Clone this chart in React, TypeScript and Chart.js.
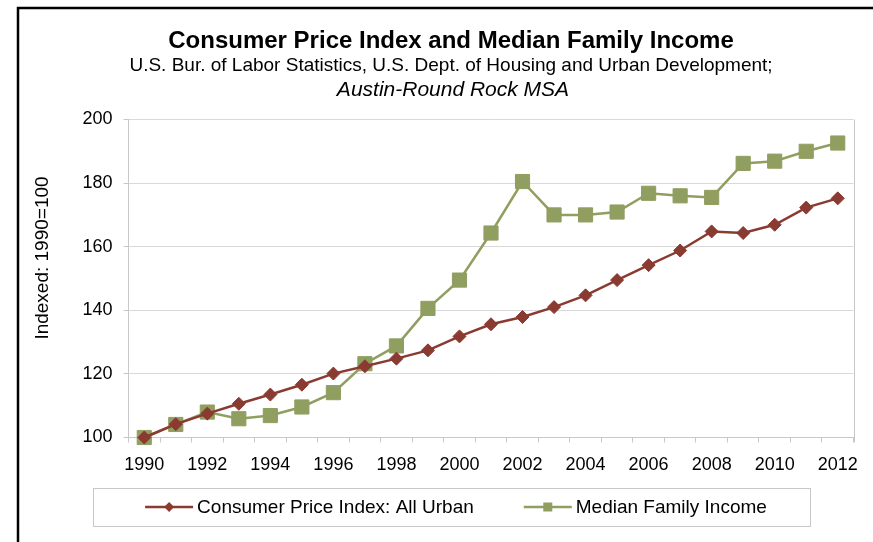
import React, { useEffect, useRef } from "react";
import { Chart, registerables } from "chart.js";

Chart.register(...registerables);

const years = ["1990","1991","1992","1993","1994","1995","1996","1997","1998","1999","2000","2001","2002","2003","2004","2005","2006","2007","2008","2009","2010","2011","2012"];
const cpiValues = [100, 104.2, 107.5, 110.6, 113.5, 116.6, 120.1, 122.4, 124.8, 127.4, 131.8, 135.6, 137.9, 141.0, 144.7, 149.5, 154.2, 158.8, 164.8, 164.3, 166.9, 172.3, 175.2];
const mfiValues = [100, 104.1, 108.0, 105.9, 106.9, 109.6, 114.1, 123.2, 128.8, 140.6, 149.5, 164.3, 180.5, 170.0, 170.0, 170.9, 176.8, 176.0, 175.5, 186.2, 186.9, 190.0, 192.6];
const yTicks = [100, 120, 140, 160, 180, 200];

const titleText = "Consumer Price Index and Median Family Income";
const subtitleText = "U.S. Bur. of Labor Statistics, U.S. Dept. of Housing and Urban Development;";
const subtitle2Text = "Austin-Round Rock MSA";
const yTitleText = "Indexed: 1990=100";
const cpiLabel = "Consumer Price Index: All Urban";
const mfiLabel = "Median Family Income";

const CPI_COLOR = "#8A3A30";
const MFI_COLOR = "#909E60";
const FONT = "'Liberation Sans', Arial, sans-serif";

const W = 873;
const H = 542;

const decorPlugin = {
  id: "decor",
  beforeDraw(chart: any) {
    const ctx = chart.ctx;
    ctx.save();
    ctx.fillStyle = "#ffffff";
    ctx.fillRect(0, 0, W, H);
    ctx.restore();
  },
  beforeDatasetsDraw(chart: any) {
    const ctx = chart.ctx;
    const area = chart.chartArea;
    ctx.save();
    ctx.strokeStyle = "#c8c8c8";
    ctx.lineWidth = 1;
    ctx.beginPath();
    ctx.moveTo(Math.round(area.right) + 0.5, area.top);
    ctx.lineTo(Math.round(area.right) + 0.5, area.bottom + 5);
    ctx.stroke();
    ctx.restore();
  },
  afterDraw(chart: any) {
    const ctx = chart.ctx;
    ctx.save();
    // outer black frame
    ctx.strokeStyle = "#000000";
    ctx.lineWidth = 2.5;
    ctx.strokeRect(18, 8, 900, 600);

    // header
    const cx = 451;
    ctx.fillStyle = "#000000";
    ctx.textAlign = "center";
    ctx.textBaseline = "middle";
    ctx.font = `bold 24px ${FONT}`;
    ctx.fillText(titleText, cx, 41);
    ctx.font = `19px ${FONT}`;
    ctx.fillText(subtitleText, cx, 66);
    ctx.font = `italic 21px ${FONT}`;
    ctx.fillText(subtitle2Text, 453, 90);

    // y axis title
    ctx.save();
    ctx.translate(43, 258);
    ctx.rotate(-Math.PI / 2);
    ctx.font = `19px ${FONT}`;
    ctx.fillText(yTitleText, 0, 0);
    ctx.restore();

    // legend
    const boxL = 93, boxT = 488, boxR = 810, boxB = 526;
    ctx.strokeStyle = "#c8c8c8";
    ctx.lineWidth = 1;
    ctx.strokeRect(boxL + 0.5, boxT + 0.5, boxR - boxL, boxB - boxT);
    ctx.font = `19px ${FONT}`;
    ctx.textAlign = "left";
    const ds = chart.data.datasets;
    const lineLen = 48, gapText = 4, gapItems = 50;
    const widths = ds.map((d: any) => ctx.measureText(d.label).width);
    const total = widths.reduce((s: number, w: number) => s + lineLen + gapText + w, 0) + gapItems * (ds.length - 1);
    let x = 456 - total / 2;
    const ly = (boxT + boxB) / 2;
    ds.forEach((d: any, i: number) => {
      ctx.strokeStyle = d.borderColor;
      ctx.lineWidth = 2.5;
      ctx.beginPath();
      ctx.moveTo(x, ly);
      ctx.lineTo(x + lineLen, ly);
      ctx.stroke();
      ctx.fillStyle = d.pointBackgroundColor;
      const mx = x + lineLen / 2;
      if (d.pointStyle === "rectRot") {
        const r = 5;
        ctx.beginPath();
        ctx.moveTo(mx, ly - r);
        ctx.lineTo(mx + r, ly);
        ctx.lineTo(mx, ly + r);
        ctx.lineTo(mx - r, ly);
        ctx.closePath();
        ctx.fill();
      } else {
        const s = 9;
        ctx.fillRect(mx - s / 2, ly - s / 2, s, s);
      }
      ctx.fillStyle = "#000000";
      ctx.fillText(d.label, x + lineLen + gapText, ly + 1);
      x += lineLen + gapText + widths[i] + gapItems;
    });
    ctx.restore();
  },
};

export default function App() {
  const ref = useRef<HTMLCanvasElement | null>(null);
  useEffect(() => {
    if (!ref.current) return;
    const chart = new Chart(ref.current, {
      type: "line",
      data: {
        labels: years,
        datasets: [
          {
            label: cpiLabel,
            data: cpiValues,
            borderColor: CPI_COLOR,
            backgroundColor: CPI_COLOR,
            pointBackgroundColor: CPI_COLOR,
            pointBorderColor: CPI_COLOR,
            borderWidth: 2.5,
            pointStyle: "rectRot",
            pointRadius: 6.5,
            pointBorderWidth: 1,
            tension: 0,
            clip: false,
          },
          {
            label: mfiLabel,
            data: mfiValues,
            borderColor: MFI_COLOR,
            backgroundColor: MFI_COLOR,
            pointBackgroundColor: MFI_COLOR,
            pointBorderColor: MFI_COLOR,
            borderWidth: 2.5,
            pointStyle: "rect",
            pointRadius: 10,
            pointBorderWidth: 1,
            tension: 0,
            clip: false,
          },
        ],
      },
      options: {
        responsive: false,
        animation: false,
        layout: { padding: { left: 0, right: 19.5, top: 119.5, bottom: 0 } },
        plugins: {
          legend: { display: false },
          title: { display: false },
          tooltip: { enabled: false },
        },
        scales: {
          x: {
            type: "category",
            offset: true,
            afterFit: (scale: any) => {
              scale.height = H - 437.5;
            },
            grid: {
              offset: true,
              drawOnChartArea: false,
              drawTicks: true,
              tickLength: 5,
              color: "#c8c8c8",
            },
            border: { color: "#c8c8c8", width: 1 },
            ticks: {
              autoSkip: false,
              maxRotation: 0,
              minRotation: 0,
              padding: 12,
              color: "#000000",
              font: { family: FONT, size: 18 },
              callback: (_v: any, i: number) => (i % 2 === 0 ? years[i] : ""),
            },
          },
          y: {
            min: yTicks[0],
            max: yTicks[yTicks.length - 1],
            afterFit: (scale: any) => {
              scale.width = 128.5;
            },
            afterBuildTicks: (scale: any) => {
              scale.ticks = yTicks.map((v) => ({ value: v }));
            },
            grid: {
              color: "#d9d9d9",
              drawTicks: true,
              tickLength: 5,
              tickColor: "#c8c8c8",
            },
            border: { color: "#c8c8c8", width: 1 },
            ticks: {
              padding: 11,
              color: "#000000",
              font: { family: FONT, size: 18 },
            },
            title: { display: false },
          },
        },
      },
      plugins: [decorPlugin],
    });
    return () => chart.destroy();
  }, []);
  return (
    <div style={{ position: "absolute", left: 0, top: 0, width: W, height: H, background: "#fff" }}>
      <canvas ref={ref} width={W} height={H} style={{ display: "block", width: W, height: H }} />
    </div>
  );
}
